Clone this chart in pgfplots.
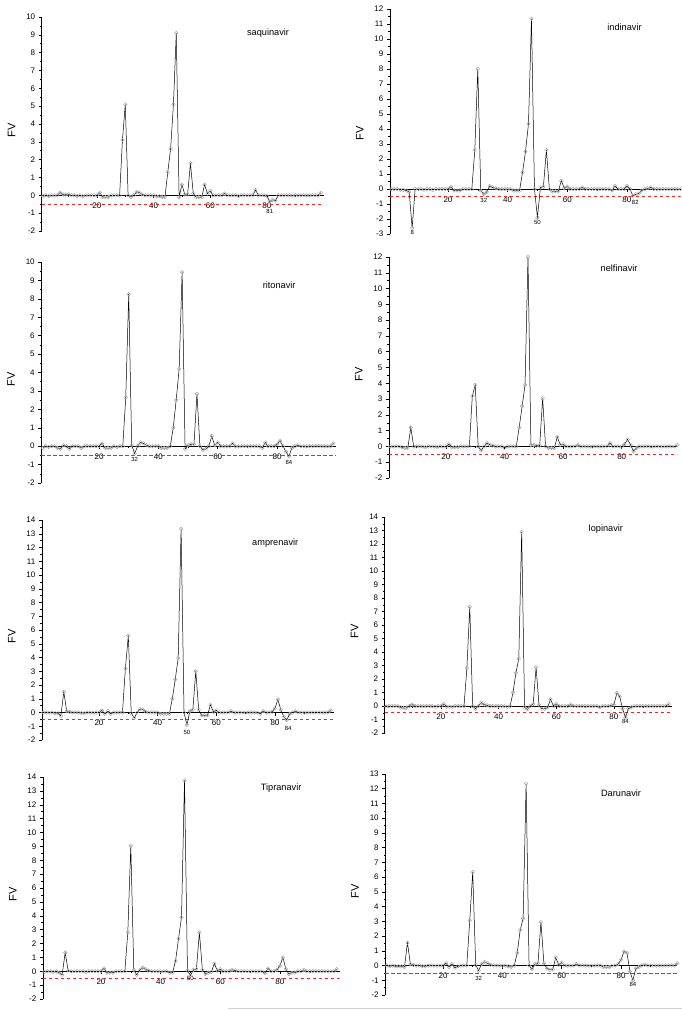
\documentclass[border=0pt]{standalone}
\usepackage{fontspec}
\setmainfont{Liberation Sans}
\usepackage{pgfplots}
\usepackage{pgfplotstable}
\pgfplotsset{compat=1.18}

\pgfplotstableread{
x sa in ri ne am lo ti da
1 -0.05 0 -0.1 0 0 -0.05 -0.05 0
2 0 0 0 0 0 0 0 -0.05
3 -0.05 0 -0.05 0 0 0 0 0
4 0 -0.05 0 0 0 0 -0.05 -0.05
5 0 -0.05 0 -0.05 -0.05 0 0 -0.05
6 0 -0.1 -0.1 -0.1 -0.05 -0.1 -0.1 -0.05
7 0.15 -0.2 -0.15 -0.1 -0.25 -0.15 -0.25 -0.1
8 0.05 -2.6 0.05 1.2 1.5 -0.15 1.35 1.55
9 0.05 0 0 0 0.1 0 0.05 0.1
10 0.05 0 -0.15 0 0.05 0.1 0 0.05
11 0 0 0 0 0 0 0 0
12 0 -0.05 0 0 0 0 0 0
13 -0.05 0 0 -0.05 0 0 0 -0.05
14 0 0 -0.1 0 -0.05 0 0 -0.05
15 -0.05 -0.05 0 0 -0.05 0 -0.05 0
16 0 0 0 0 0 0 0 0
17 0 0 0 -0.05 0 0 0 0
18 0 0 0 0 0 -0.05 0 0
19 0 0 0 0 0 0 0 0
20 0 0 0 0 0 0 0 0
21 0.15 0.15 0.15 0.15 0.15 0.15 0.2 0.15
22 -0.1 -0.1 -0.1 -0.05 -0.1 -0.05 -0.1 -0.1
23 -0.1 -0.1 -0.1 -0.05 0.1 -0.05 -0.1 0.1
24 -0.1 -0.1 -0.1 -0.05 -0.1 -0.05 -0.1 -0.15
25 0 0 0 0 0 0 0 -0.05
26 0 0 -0.05 0 0 0 0 0
27 0 0 0 0 0 0 0 0
28 0 0 0 0 0 0 0 0
29 3.1 2.6 2.65 3.2 3.2 2.8 2.8 3.05
30 5.1 8.0 8.25 3.9 5.6 7.35 9.05 6.35
31 0 -0.1 0.05 0 -0.05 0 0.1 0.05
32 -0.1 -0.35 -0.4 -0.25 -0.4 -0.2 -0.25 -0.35
33 0 -0.2 0 0 0 0 0.1 0.1
34 0.2 0.2 0.2 0.2 0.25 0.25 0.25 0.25
35 0.15 0.1 0.15 0.1 0.2 0.1 0.15 0.15
36 0.05 0.05 0.05 0.05 0.05 0.05 0.05 0.05
37 0 0 0 0 0 0 0 0
38 0 0 0 0 0 0 0 0
39 0 0 0 0 0 0 0 0
40 0 0 0 -0.1 0 0 0 0
41 -0.05 0 -0.1 0 -0.1 0 0 0
42 -0.05 -0.1 -0.1 0 -0.1 0 0 -0.05
43 -0.1 -0.1 -0.1 0 -0.1 -0.05 -0.1 -0.1
44 -0.1 -0.1 0 0 -0.1 0 -0.1 0
45 1.3 1.1 1.0 1.2 1.0 1.0 0.75 0.85
46 2.6 2.5 2.5 2.55 2.4 2.45 2.35 2.4
47 5.1 4.35 4.2 3.9 3.95 3.5 3.9 3.2
48 9.1 11.35 9.45 12.0 13.35 12.9 13.75 12.35
49 -0.1 0 -0.15 0.1 0 -0.1 0.05 0
50 0.6 -1.9 0.05 0.1 -0.9 -0.25 -0.3 -0.25
51 0.05 0.1 0.1 0.05 0.1 0 0.1 0.1
52 0.05 0.15 0.1 0.05 0.2 0.15 0.15 0.15
53 1.8 2.6 2.85 3.05 3.0 2.87 2.8 2.95
54 0.1 0 0 0 0.2 0.1 0.1 0.15
55 -0.1 -0.15 -0.2 -0.1 -0.2 -0.2 -0.2 -0.2
56 -0.1 -0.15 -0.15 -0.1 -0.2 -0.2 -0.1 -0.3
57 -0.1 -0.15 0 -0.1 -0.2 -0.1 -0.05 -0.25
58 0.6 0.55 0.55 0.6 0.55 0.5 0.55 0.55
59 0.1 0.05 0.05 0.1 0.05 0 0.05 0.05
60 0.25 0.15 0.2 0.15 0.15 0.15 0.15 0.2
61 0 0 0 0 0 0 0 0
62 0 0 0 0 0 0 0 0
63 0 0 0 0 0 0 0 0
64 0 0 0 0 0 0 0.1 0
65 0.1 0.1 0.15 0.1 0.1 0.1 0.05 0.1
66 0 0 0 0 0 0 0 0
67 0 0 0 0 0 0 0 0
68 0 0 0 0 0 0 0 0
69 0 0 0 0 0 0 0 0
70 -0.05 0 0 0 0 0 0 0
71 0 0 0 0 0 0 0 0
72 0 0 0 0 0 0 0 0
73 0 0 0 0 0 0 0 0
74 0 0 0 0 0 0 0 -0.1
75 0 -0.1 -0.1 0 -0.1 -0.1 -0.15 -0.1
76 0.3 0.2 0.2 0.2 0.1 0 0.2 -0.1
77 0 0 0 0 0 0 0 0
78 0 0 0 0 0 0 0 0
79 0 0 0 0 0.05 0.05 0.1 0.1
80 -0.05 0.2 0.1 0 0.3 0.1 0.4 0.4
81 -0.35 0 0.3 0.15 0.95 0.95 1.0 0.95
82 -0.25 -0.45 0 0.45 0.2 0.7 0.15 0.85
83 -0.3 -0.35 -0.3 0.1 -0.3 -0.2 -0.2 -0.4
84 0 -0.3 -0.55 -0.3 -0.55 -0.85 -0.1 -1.0
85 0 -0.1 -0.1 -0.1 -0.1 -0.2 -0.1 -0.2
86 0 0 0 0 0 -0.1 0 -0.1
87 0 0.05 0.05 0 0.1 0 0 0
88 0 0.1 0 0 0 0 0.1 0.05
89 0 0 0 0 0 0 0 0
90 0 0 0 0 0 0 0 0
91 0 0 0 0 0 0 0 0
92 0 0 0 0 0 0 0 0
93 0 0 0 0 0 0 0 0
94 0 0 0 0 0 0 0 0
95 0 0 0 0 0 0 0 0
96 0 0 0 0 0 0 0 0
97 0 0 0 0 0 0 0 0
98 0 0 0 0 0 0 0 0
99 0.15 0.05 0.15 0.1 0.15 0.15 0.15 0.15
}\data

\definecolor{redline}{RGB}{230,40,40}
\pgfplotsset{
  panel/.style={
    scale only axis, anchor=south west,
    axis x line=middle, axis y line=left,
    axis line style={-, black, line width=0.6pt},
    hide obscured x ticks=false, hide obscured y ticks=false,
    xtick={20,40,60,80}, minor xtick={10,30,50,70,90},
    ytick distance=1, minor y tick num=1,
    tick align=outside,
    major tick length=3pt, minor tick length=1.6pt,
    tick style={black, line width=0.5pt},
    tick label style={font=\fontsize{8}{9}\selectfont},
    x tick label style={yshift=-1pt},
    /pgf/number format/assume math mode=true,
    ylabel={FV},
    every axis y label/.style={at={(axis description cs:0,0.47)}, xshift=-30pt, rotate=90, anchor=center, font=\fontsize{11}{12}\selectfont},
  },
  data/.style={black, line width=0.5pt, mark=o, mark size=1.8pt, mark options={draw=gray!70, fill=white, line width=0.45pt}},
  ref/.style={redline, line width=0.8pt, dash pattern=on 3.5pt off 2.5pt, no marks},
}
\tikzset{
  ttl/.style={font=\fontsize{9.2}{10}\selectfont},
  lab/.style={font=\fontsize{6}{6}\selectfont, inner sep=0.5pt},
}

\begin{document}
\begin{tikzpicture}
\useasboundingbox (0,0) rectangle (682pt,-1011pt);

% saquinavir
\begin{axis}[panel, at={(41.7pt,-231pt)}, width=281.9pt, height=214pt, xmin=0.5, xmax=100, ymin=-2, ymax=10]
\addplot[ref] coordinates {(0.5,-0.5) (100,-0.5)};
\addplot[data] table[x=x,y=sa]{\data};
\node[ttl] at (axis cs:80.4,9.1) {saquinavir};
\node[lab] at (axis cs:81,-0.93) {81};
\end{axis}

% indinavir
\begin{axis}[panel, at={(389.8pt,-234pt)}, width=290.8pt, height=225pt, xmin=0.5, xmax=98, ymin=-3, ymax=12,
  every axis y label/.append style={xshift=-5pt}]
\addplot[ref] coordinates {(0.5,-0.5) (98,-0.5)};
\addplot[data] table[x=x,y=in]{\data};
\node[ttl] at (axis cs:79.2,10.8) {indinavir};
\node[lab] at (axis cs:8,-2.9) {8};
\node[lab] at (axis cs:32,-0.78) {32};
\node[lab] at (axis cs:50,-2.23) {50};
\node[lab] at (axis cs:82.8,-0.92) {82};
\end{axis}

% ritonavir
\begin{axis}[panel, at={(41.2pt,-483pt)}, width=295.2pt, height=221pt, xmin=0.5, xmax=100, ymin=-2, ymax=10]
\addplot[ref] coordinates {(0.5,-0.5) (100,-0.5)};
\addplot[data] table[x=x,y=ri]{\data};
\node[ttl] at (axis cs:80.7,8.75) {ritonavir};
\node[lab] at (axis cs:32,-0.72) {32};
\node[lab] at (axis cs:84,-0.9) {84};
\end{axis}

% nelfinavir
\begin{axis}[panel, at={(388.8pt,-478pt)}, width=288.6pt, height=221pt, xmin=0.5, xmax=99, ymin=-2, ymax=12]
\addplot[ref] coordinates {(0.5,-0.5) (99,-0.5)};
\addplot[data] table[x=x,y=ne]{\data};
\node[ttl] at (axis cs:79.1,11.3) {nelfinavir};
\end{axis}

% amprenavir
\begin{axis}[panel, at={(41.8pt,-740pt)}, width=291.8pt, height=220pt, xmin=0.5, xmax=100, ymin=-2, ymax=14]
\addplot[ref] coordinates {(0.5,-0.5) (100,-0.5)};
\addplot[data] table[x=x,y=am]{\data};
\node[ttl] at (axis cs:80.1,12.3) {amprenavir};
\node[lab] at (axis cs:50,-1.43) {50};
\node[lab] at (axis cs:84.5,-1.16) {84};
\end{axis}

% lopinavir
\begin{axis}[panel, at={(384.7pt,-733pt)}, width=286.9pt, height=216pt, xmin=0.5, xmax=100, ymin=-2, ymax=14]
\addplot[ref] coordinates {(0.5,-0.5) (100,-0.5)};
\addplot[data] table[x=x,y=lo]{\data};
\node[ttl] at (axis cs:77.2,13.1) {lopinavir};
\node[lab] at (axis cs:84,-1.16) {84};
\end{axis}

% Tipranavir
\begin{axis}[panel, at={(42.8pt,-999pt)}, width=296.8pt, height=222pt, xmin=0.5, xmax=100, ymin=-2, ymax=14]
\addplot[ref] coordinates {(0.5,-0.5) (100,-0.5)};
\addplot[data] table[x=x,y=ti]{\data};
\node[ttl] at (axis cs:80.4,13.2) {Tipranavir};
\node[lab] at (axis cs:50,-0.55) {50};
\end{axis}

% Darunavir
\begin{axis}[panel, at={(385.2pt,-995pt)}, width=292.2pt, height=221pt, xmin=0.5, xmax=99, ymin=-2, ymax=13]
\addplot[ref] coordinates {(0.5,-0.5) (99,-0.5)};
\addplot[data] table[x=x,y=da]{\data};
\node[ttl] at (axis cs:80.0,11.7) {Darunavir};
\node[lab] at (axis cs:32,-0.9) {32};
\node[lab] at (axis cs:84,-1.3) {84};
\end{axis}

\draw[gray!35, line width=1pt] (228pt,-1008pt) -- (682pt,-1008pt);
\end{tikzpicture}
\end{document}
